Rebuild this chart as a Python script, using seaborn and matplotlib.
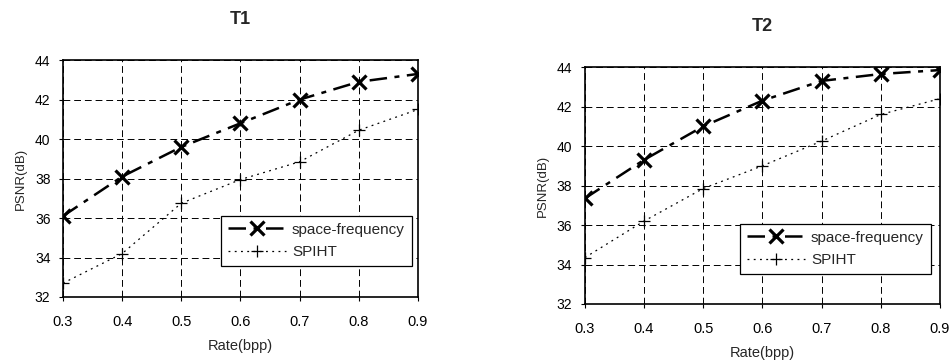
import numpy as np
import pandas as pd
import seaborn as sns
import matplotlib.pyplot as plt

# rates and PSNR values
rate = [0.3, 0.4, 0.5, 0.6, 0.7, 0.8, 0.9]
t1_sf = [36.1, 38.1, 39.6, 40.8, 42.0, 42.9, 43.3]
t1_spiht = [32.7, 34.2, 36.75, 37.95, 38.85, 40.45, 41.5]
t2_sf = [37.35, 39.3, 41.0, 42.3, 43.3, 43.65, 43.85]
t2_spiht = [34.35, 36.2, 37.85, 39.0, 40.25, 41.6, 42.4]
methods = ['space-frequency', 'SPIHT']
yticks = [32, 34, 36, 38, 40, 42, 44]

sns.set_style('white')
plt.rcParams['font.family'] = ['Liberation Sans', 'DejaVu Sans']

fig = plt.figure(figsize=(9.51, 3.6), dpi=100)
ax1 = fig.add_axes([0.0662, 0.175, 0.3733, 0.658])
ax2 = fig.add_axes([0.615, 0.1556, 0.3733, 0.658])

panels = [
    (ax1, 'T1', t1_sf, t1_spiht, (0.445, 0.131)),
    (ax2, 'T2', t2_sf, t2_spiht, (0.437, 0.127)),
]

for ax, title, sf, sp, leg_pos in panels:
    df = pd.DataFrame({
        'Rate': rate * 2,
        'PSNR': sf + sp,
        'Method': [methods[0]] * len(rate) + [methods[1]] * len(rate),
    })
    sns.lineplot(data=df[df.Method == methods[0]], x='Rate', y='PSNR', ax=ax,
                 color='black', linewidth=1.8, marker='x', markersize=10,
                 markeredgewidth=2.3, markeredgecolor='black',
                 label=methods[0], dashes=False)
    sns.lineplot(data=df[df.Method == methods[1]], x='Rate', y='PSNR', ax=ax,
                 color='black', linewidth=0.9, marker='+', markersize=9,
                 markeredgewidth=0.9, markeredgecolor='black',
                 label=methods[1], dashes=False)
    lines = ax.get_lines()
    lines[0].set_dashes([7, 3, 2, 3])
    lines[1].set_dashes([1.5, 3.5])

    ax.set_xlim(0.3, 0.9)
    ax.set_ylim(32, 44)
    ax.set_xticks(rate)
    ax.set_xticklabels([f'{r:.1f}' for r in rate])
    ax.set_yticks(yticks)
    ax.grid(True, color='black', linestyle=(0, (7, 4)), linewidth=0.7)
    for s in ax.spines.values():
        s.set_color('black')
        s.set_linewidth(1.2)
    ax.tick_params(axis='both', labelsize=10.5, length=3, direction='out',
                   colors='black', bottom=True, left=True)
    ax.tick_params(axis='x', pad=10)
    ax.tick_params(axis='y', pad=6, labelsize=10)
    ax.set_xlabel('Rate(bpp)', fontsize=10.5, labelpad=7)
    ax.set_ylabel('PSNR(dB)', fontsize=9.5, labelpad=6)
    ax.set_title(title, fontsize=13, fontweight='bold', pad=26)

    leg = ax.legend(loc='lower left', bbox_to_anchor=leg_pos, fontsize=11,
                    frameon=True, fancybox=False, framealpha=1,
                    edgecolor='black', handlelength=3.8, borderpad=0.45,
                    labelspacing=0.55, handletextpad=0.4, borderaxespad=0)
    leg.get_frame().set_linewidth(0.9)

fig.savefig('out.png', dpi=100)
